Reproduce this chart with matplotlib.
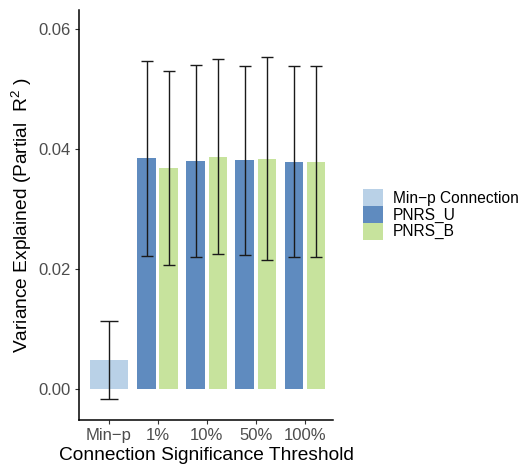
import matplotlib
matplotlib.use("Agg")
import matplotlib.pyplot as plt
from matplotlib.patches import Patch
import numpy as np

plt.rcParams['font.family'] = ['Liberation Sans', 'DejaVu Sans']
plt.rcParams['mathtext.fontset'] = 'custom'
plt.rcParams['mathtext.rm'] = 'Liberation Sans'
plt.rcParams['mathtext.it'] = 'Liberation Sans'

categories = ["Min\u2212p", "1%", "10%", "50%", "100%"]
minp_value = 0.00488
minp_lo = -0.00157
minp_hi = 0.01143
pnrs_u = [0.0385, 0.03805, 0.03817, 0.03793]
pnrs_u_lo = [0.0223, 0.0221, 0.02238, 0.0220]
pnrs_u_hi = [0.0547, 0.0541, 0.0539, 0.0539]
pnrs_b = [0.03683, 0.03877, 0.03833, 0.03793]
pnrs_b_lo = [0.02077, 0.02255, 0.02155, 0.0220]
pnrs_b_hi = [0.0530, 0.0551, 0.0553, 0.0539]
legend_labels = ["Min\u2212p Connection", "PNRS_U", "PNRS_B"]
colors = ["#b9d1e7", "#5f8bbf", "#c7e39d"]

fig = plt.figure(figsize=(5.20, 4.66), dpi=100)
ax = fig.add_axes([0.1525, 0.0987, 0.640 - 0.1525, 0.9785 - 0.0987])

x = np.arange(len(categories))
ecol = '#1a1a1a'
# Min-p bar
ax.bar(x[0], minp_value, width=0.78, color=colors[0])
ax.errorbar(x[0], minp_value, yerr=[[minp_value - minp_lo], [minp_hi - minp_value]],
            fmt='none', ecolor=ecol, elinewidth=1.0, capsize=6.8, capthick=1.0)

xd = x[1:]
off = 0.225
ax.bar(xd - off, pnrs_u, width=0.38, color=colors[1])
ax.bar(xd + off, pnrs_b, width=0.38, color=colors[2])
u = np.array(pnrs_u); b = np.array(pnrs_b)
ax.errorbar(xd - off, u, yerr=[u - np.array(pnrs_u_lo), np.array(pnrs_u_hi) - u],
            fmt='none', ecolor=ecol, elinewidth=1.0, capsize=4.0, capthick=1.0)
ax.errorbar(xd + off, b, yerr=[b - np.array(pnrs_b_lo), np.array(pnrs_b_hi) - b],
            fmt='none', ecolor=ecol, elinewidth=1.0, capsize=4.0, capthick=1.0)

ax.set_xlim(-0.6, 4.57)
ax.set_ylim(-0.0051, 0.0632)
ax.set_yticks([0.0, 0.02, 0.04, 0.06])
ax.set_yticklabels(["0.00", "0.02", "0.04", "0.06"])
ax.set_xticks(x)
ax.set_xticklabels(categories)
for s in ['top', 'right']:
    ax.spines[s].set_visible(False)
for s in ['left', 'bottom']:
    ax.spines[s].set_linewidth(1.1)
    ax.spines[s].set_color('black')
ax.tick_params(axis='both', length=3, width=0.8, color='#333333', labelsize=12,
               labelcolor='#4d4d4d', pad=3)
ax.set_xlabel("Connection Significance Threshold", fontsize=13.75, labelpad=2.5)
ax.set_ylabel("Variance Explained (Partial  R$^{2}$ )", fontsize=13.75, labelpad=3)

handles = [Patch(facecolor=c, edgecolor='none') for c in colors]
fig.legend(handles, legend_labels, loc='upper left',
           bbox_to_anchor=(363 / 520, 1 - 189 / 466), frameon=False,
           fontsize=11.2, handlelength=1.29, handleheight=1.29, labelspacing=0,
           handletextpad=0.65, borderpad=0, borderaxespad=0)

fig.savefig("out.png", dpi=100)
